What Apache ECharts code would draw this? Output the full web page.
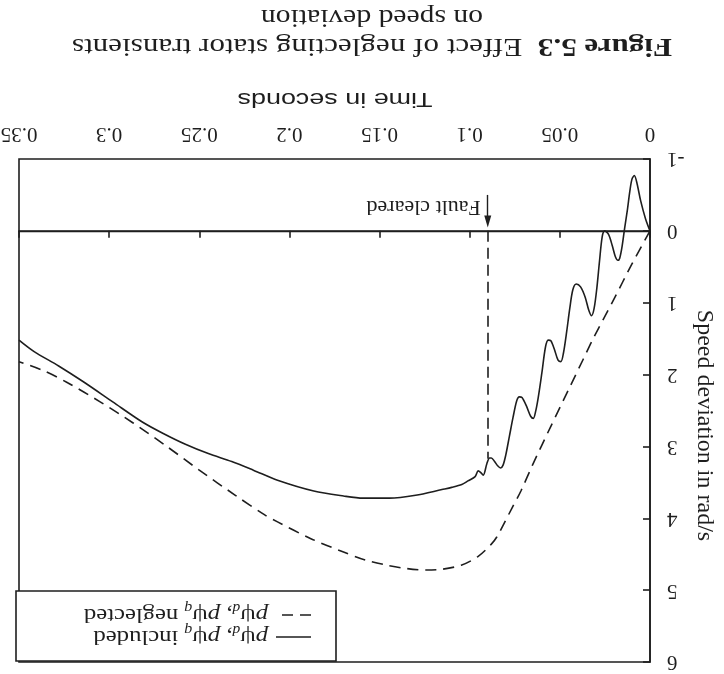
<!DOCTYPE html>
<html>
<head>
<meta charset="utf-8">
<title>Figure 5.3</title>
<script src="https://cdn.jsdelivr.net/npm/echarts@6/dist/echarts.min.js"></script>
<style>
html,body{margin:0;padding:0;background:#fff;}
#showChart{width:724px;height:674px;}
</style>
</head>
<body>
<div id="showChart"></div>
<script>
// 定子暂态计入时的转速偏差 (rad/s)
var timeIncluded = [0, 0.0025, 0.0052, 0.0072, 0.0087, 0.0100, 0.0112, 0.0125, 0.0140, 0.0155, 0.0168, 0.0178,
	0.0192, 0.0210, 0.0230, 0.0251, 0.0265, 0.0280, 0.0295, 0.0310, 0.0324, 0.0340, 0.0360, 0.0385, 0.0409,
	0.0428, 0.0445, 0.0462, 0.0480, 0.0494, 0.0510, 0.0530, 0.0550, 0.0565, 0.0580, 0.0600, 0.0620, 0.0635,
	0.0647, 0.0662, 0.0685, 0.0710, 0.0725, 0.0740, 0.0760, 0.0780, 0.0800, 0.0815, 0.0829, 0.0845, 0.0862,
	0.0880, 0.0890, 0.0905, 0.0925, 0.0940, 0.0953, 0.0970, 0.1010, 0.1044, 0.1100, 0.1154, 0.1300, 0.1446,
	0.1592, 0.1700, 0.1865, 0.2066, 0.2200, 0.2320, 0.2450, 0.2577, 0.2700, 0.2816, 0.2980, 0.3143, 0.3280,
	0.3416, 0.3500];
var speedIncluded = [0, -0.17, -0.42, -0.66, -0.77, -0.72, -0.55, -0.30, -0.05, 0.22, 0.38, 0.41,
	0.36, 0.20, 0.05, 0.00, 0.08, 0.42, 0.80, 1.08, 1.18, 1.10, 0.92, 0.78, 0.74,
	0.82, 1.08, 1.40, 1.70, 1.82, 1.80, 1.65, 1.53, 1.52, 1.62, 1.98, 2.32, 2.52,
	2.61, 2.58, 2.44, 2.32, 2.31, 2.37, 2.60, 2.86, 3.12, 3.26, 3.30, 3.27, 3.21,
	3.16, 3.16, 3.24, 3.40, 3.36, 3.34, 3.42, 3.48, 3.53, 3.57, 3.60, 3.68, 3.72,
	3.72, 3.69, 3.62, 3.47, 3.33, 3.21, 3.10, 2.97, 2.82, 2.66, 2.38, 2.10, 1.88,
	1.68, 1.52];
// 忽略定子暂态
var timeNeglected = [0, 0.0100, 0.0200, 0.0315, 0.0369, 0.0450, 0.0550, 0.0650, 0.0716, 0.0762, 0.0807,
	0.0850, 0.0880, 0.0953, 0.1044, 0.1154, 0.1245, 0.1350, 0.1464, 0.1580, 0.1700, 0.1884, 0.2066, 0.2139,
	0.2300, 0.2500, 0.2680, 0.2869, 0.3050, 0.3233, 0.3360, 0.3500];
var speedNeglected = [0, 0.46, 0.95, 1.50, 1.78, 2.20, 2.72, 3.25, 3.62, 3.84, 4.06,
	4.26, 4.36, 4.53, 4.65, 4.71, 4.72, 4.70, 4.65, 4.58, 4.47, 4.28, 4.05, 3.95,
	3.68, 3.33, 3.00, 2.67, 2.38, 2.11, 1.95, 1.82];
var seriesNames = ['included', 'neglected'];
var xTickLabels = ['0', '0.05', '0.1', '0.15', '0.2', '0.25', '0.3', '0.35'];
var yTickLabels = ['-1', '0', '1', '2', '3', '4', '5', '6'];
var faultTime = 0.09;
var faultSpeed = 3.17;

var ink = '#1e1e1e';
var serif = 'Liberation Serif';
var sans = 'Liberation Sans';

function pairUp(xs, ys)
{
	var out = [];
	for(var i = 0;i < xs.length;i++)
	{
		out.push([xs[i], ys[i]]);
	}
	return out;
}
//按目标宽度求横向缩放
var measureCtx = document.createElement('canvas').getContext('2d');
function textWidth(text, font)
{
	measureCtx.font = font;
	return measureCtx.measureText(text).width;
}

var myChart = echarts.init(document.getElementById('showChart'), null, {renderer: 'canvas'});

var option = {
	animation: false,
	backgroundColor: '#fff',
	grid: {
		left: 19, right: 66, top: 159, bottom: 12,
		show: true, borderColor: ink, borderWidth: 1.6, backgroundColor: 'transparent'
	},
	xAxis: {
		type: 'value',
		position: 'top',
		inverse: true,
		min: 0, max: 0.35, interval: 0.05,
		axisLine: {show: true, lineStyle: {color: ink, width: 1.6}},
		axisTick: {show: true, inside: true, length: 7, lineStyle: {color: ink, width: 1.6}},
		axisLabel: {show: false},
		splitLine: {show: false}
	},
	yAxis: {
		type: 'value',
		position: 'right',
		inverse: true,
		min: -1, max: 6, interval: 1,
		name: 'Speed deviation in rad/s',
		nameLocation: 'middle',
		nameRotate: -90,
		nameGap: 42,
		nameTextStyle: {fontFamily: serif, fontSize: 24, color: ink, padding: [0, 0, 0, 30]},
		axisLine: {show: true, lineStyle: {color: ink, width: 1.6}},
		axisTick: {show: true, inside: true, length: 7, lineStyle: {color: ink, width: 1.6}},
		axisLabel: {show: false},
		splitLine: {show: false}
	},
	series: [{
		name: seriesNames[0],
		type: 'line',
		data: pairUp(timeIncluded, speedIncluded),
		showSymbol: false,
		smooth: 0.3,
		lineStyle: {color: ink, width: 1.6},
		markLine: {
			silent: true,
			symbol: ['none', 'none'],
			label: {show: false},
			lineStyle: {color: ink, width: 1.4, type: 'solid'},
			data: [
				{yAxis: 0},
				[{coord: [faultTime, 0], lineStyle: {type: [11, 6], width: 1.6}}, {coord: [faultTime, faultSpeed]}],
				[{coord: [faultTime, -0.50]}, {coord: [faultTime, -0.13], symbol: 'triangle', symbolSize: [7, 12]}]
			]
		}
	},
	{
		name: seriesNames[1],
		type: 'line',
		data: pairUp(timeNeglected, speedNeglected),
		showSymbol: false,
		smooth: 0.3,
		lineStyle: {color: ink, width: 1.6, type: [11, 7]}
	}]
};
myChart.setOption(option);

// 整幅图倒置：刻度、标题、图例都转180度
var graphics = [];
for(var i = 0;i < xTickLabels.length;i++)
{
	var px = myChart.convertToPixel({xAxisIndex: 0}, Number(xTickLabels[i]));
	graphics.push({
		type: 'text', x: px, y: 134, rotation: Math.PI,
		style: {text: xTickLabels[i], fontFamily: serif, fontSize: 21, fill: ink, align: 'center', verticalAlign: 'middle'}
	});
}
for(var j = 0;j < yTickLabels.length;j++)
{
	var py = myChart.convertToPixel({yAxisIndex: 0}, Number(yTickLabels[j]));
	graphics.push({
		type: 'text', x: 667, y: py, rotation: Math.PI,
		style: {text: yTickLabels[j], fontFamily: serif, fontSize: 21, fill: ink, align: 'right', verticalAlign: 'middle'}
	});
}

var titleBold = 'Figure 5.3';
var titleRest = '  Effect of neglecting stator transients';
var titleW = textWidth(titleBold, 'bold 26px ' + serif) + textWidth(titleRest, '26px ' + serif);
graphics.push({
	type: 'text', x: 372, y: 46, rotation: Math.PI, scaleX: 600 / titleW,
	style: {
		text: '{b|' + titleBold + '}' + titleRest,
		rich: {b: {fontFamily: serif, fontWeight: 'bold', fontSize: 26, fill: ink}},
		fontFamily: serif, fontSize: 26, fill: ink, align: 'center', verticalAlign: 'middle'
	}
});
var title2 = 'on speed deviation';
graphics.push({
	type: 'text', x: 372, y: 17, rotation: Math.PI, scaleX: 222 / textWidth(title2, '26px ' + serif),
	style: {text: title2, fontFamily: serif, fontSize: 26, fill: ink, align: 'center', verticalAlign: 'middle'}
});
var xName = 'Time in seconds';
graphics.push({
	type: 'text', x: 335, y: 99, rotation: Math.PI, scaleX: 195 / textWidth(xName, '21px ' + sans),
	style: {text: xName, fontFamily: sans, fontSize: 21, fill: ink, align: 'center', verticalAlign: 'middle'}
});

var faultPos = myChart.convertToPixel({gridIndex: 0}, [faultTime, -0.33]);
graphics.push({
	type: 'text', x: faultPos[0] - 7, y: faultPos[1], rotation: Math.PI,
	style: {text: 'Fault cleared', fontFamily: serif, fontSize: 22, fill: ink, align: 'left', verticalAlign: 'middle'}
});

function legendText(word)
{
	return '{p|p}{s|ψ}{sub|d}{n|, }{p|p}{s|ψ}{sub|q}{n| ' + word + '}';
}
var legendRich = {
	p: {fontFamily: serif, fontStyle: 'italic', fontSize: 22, lineHeight: 28, verticalAlign: 'middle', fill: ink},
	s: {fontFamily: serif, fontSize: 22, lineHeight: 28, verticalAlign: 'middle', fill: ink},
	n: {fontFamily: serif, fontSize: 22, lineHeight: 28, verticalAlign: 'middle', fill: ink},
	sub: {fontFamily: serif, fontStyle: 'italic', fontSize: 14, lineHeight: 14, verticalAlign: 'bottom', fill: ink}
};
graphics.push({
	type: 'group', x: 176, y: 626, rotation: Math.PI,
	children: [
		{type: 'rect', shape: {x: -160, y: -35, width: 320, height: 70}, style: {fill: '#fff', stroke: ink, lineWidth: 1.6}},
		{type: 'line', shape: {x1: -135, y1: -11, x2: -100, y2: -11}, style: {stroke: ink, lineWidth: 1.6}},
		{type: 'line', shape: {x1: -135, y1: 11, x2: -100, y2: 11}, style: {stroke: ink, lineWidth: 1.6, lineDash: [11, 7]}},
		{type: 'text', x: -92, y: -11, scaleX: 1.12, style: {text: legendText('included'), rich: legendRich, align: 'left', verticalAlign: 'middle'}},
		{type: 'text', x: -92, y: 11, scaleX: 1.12, style: {text: legendText('neglected'), rich: legendRich, align: 'left', verticalAlign: 'middle'}}
	]
});

myChart.setOption({graphic: graphics});
window.onresize = myChart.resize;
</script>
</body>
</html>
